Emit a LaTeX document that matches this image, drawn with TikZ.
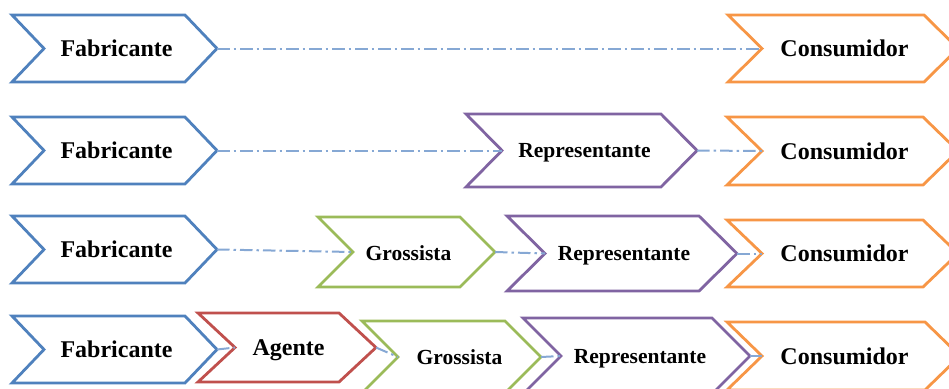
\documentclass[tikz,border=0pt]{standalone}
\usepackage{fontspec}
\setmainfont{Liberation Serif}
\definecolor{cblue}{HTML}{4F81BD}
\definecolor{cred}{HTML}{C0504D}
\definecolor{cgreen}{HTML}{9BBB59}
\definecolor{cpurple}{HTML}{8064A2}
\definecolor{corange}{HTML}{F79646}
\definecolor{clink}{HTML}{86A8D4}
\tikzset{
  chev/.style={line width=2.8pt, fill=white, line join=miter},
  big/.style={font=\bfseries\fontsize{24}{28}\selectfont, text height=16pt, text depth=0pt, inner sep=0pt, anchor=center},
  small/.style={font=\bfseries\fontsize{21.5}{26}\selectfont, text height=14.3pt, text depth=0pt, inner sep=0pt, anchor=center},
  link/.style={clink, line width=2pt, dash pattern=on 12.5pt off 4pt on 2.5pt off 4pt},
}
\newcommand\chevshape[7]{%
  \pgfmathsetmacro\chM{(#4+#5)/2}%
  \draw[chev, draw=#2] (#3,#4) -- (#7,#4) -- ({#7+#6},\chM) -- (#7,#5) -- (#3,#5) -- ({#3+#6},\chM) -- cycle;
  \coordinate (#1-tip) at ({#7+#6},\chM);
  \coordinate (#1-notch) at ({#3+#6},\chM);
}
\begin{document}
\begin{tikzpicture}[x=1pt,y=-1pt]
\useasboundingbox (0,0) rectangle (949,388);
\clip (0,0) rectangle (949,388);
% Row 1
\chevshape{fab1}{cblue}{12}{15}{82}{32}{185}
\node[big] (fab1) at (116.5,48.5) {Fabricante};
\chevshape{con1}{corange}{728}{15}{82}{34}{924}
\node[big] (con1) at (844.5,48.5) {Consumidor};
% Row 2
\chevshape{fab2}{cblue}{12}{117}{184}{32}{185}
\node[big] (fab2) at (116.5,150.5) {Fabricante};
\chevshape{rep2}{cpurple}{466}{114}{187}{36}{661}
\node[small] (rep2) at (584.5,150.5) {Representante};
\chevshape{con2}{corange}{727}{117}{185}{35}{923}
\node[big] (con2) at (844.5,151) {Consumidor};
% Row 3
\chevshape{fab3}{cblue}{12}{216}{283}{32}{185}
\node[big] (fab3) at (116.5,249.5) {Fabricante};
\chevshape{gro3}{cgreen}{318}{217}{287}{35}{460}
\node[small] (gro3) at (408.5,253) {Grossista};
\chevshape{rep3}{cpurple}{507}{216}{291}{38}{699}
\node[small] (rep3) at (624,253.5) {Representante};
\chevshape{con3}{corange}{727}{220}{287}{35}{923}
\node[big] (con3) at (844.5,253.5) {Consumidor};
% Row 4
\chevshape{fab4}{cblue}{12}{316}{383}{32}{185}
\node[big] (fab4) at (116.5,349.5) {Fabricante};
\chevshape{age4}{cred}{198}{313}{382}{37}{339}
\node[big] (age4) at (288.5,347.5) {Agente};
\chevshape{gro4}{cgreen}{362}{321}{393}{36}{505}
\node[small] (gro4) at (459.5,357) {Grossista};
\chevshape{rep4}{cpurple}{523}{318}{394}{38}{712}
\node[small] (rep4) at (640,356) {Representante};
\chevshape{con4}{corange}{727}{322}{390}{35}{925}
\node[big] (con4) at (844.5,356) {Consumidor};
% connectors
\draw[link] (fab1-tip) -- (con1-notch);
\draw[link] (fab2-tip) -- (rep2-notch);
\draw[link] (rep2-tip) -- (con2-notch);
\draw[link] (fab3-tip) -- (gro3-notch);
\draw[link] (gro3-tip) -- (rep3-notch);
\draw[link] (rep3-tip) -- (con3-notch);
\draw[link] (fab4-tip) -- (age4-notch);
\draw[link] (age4-tip) -- (gro4-notch);
\draw[link] (gro4-tip) -- (rep4-notch);
\draw[link] (rep4-tip) -- (con4-notch);
\end{tikzpicture}
\end{document}
